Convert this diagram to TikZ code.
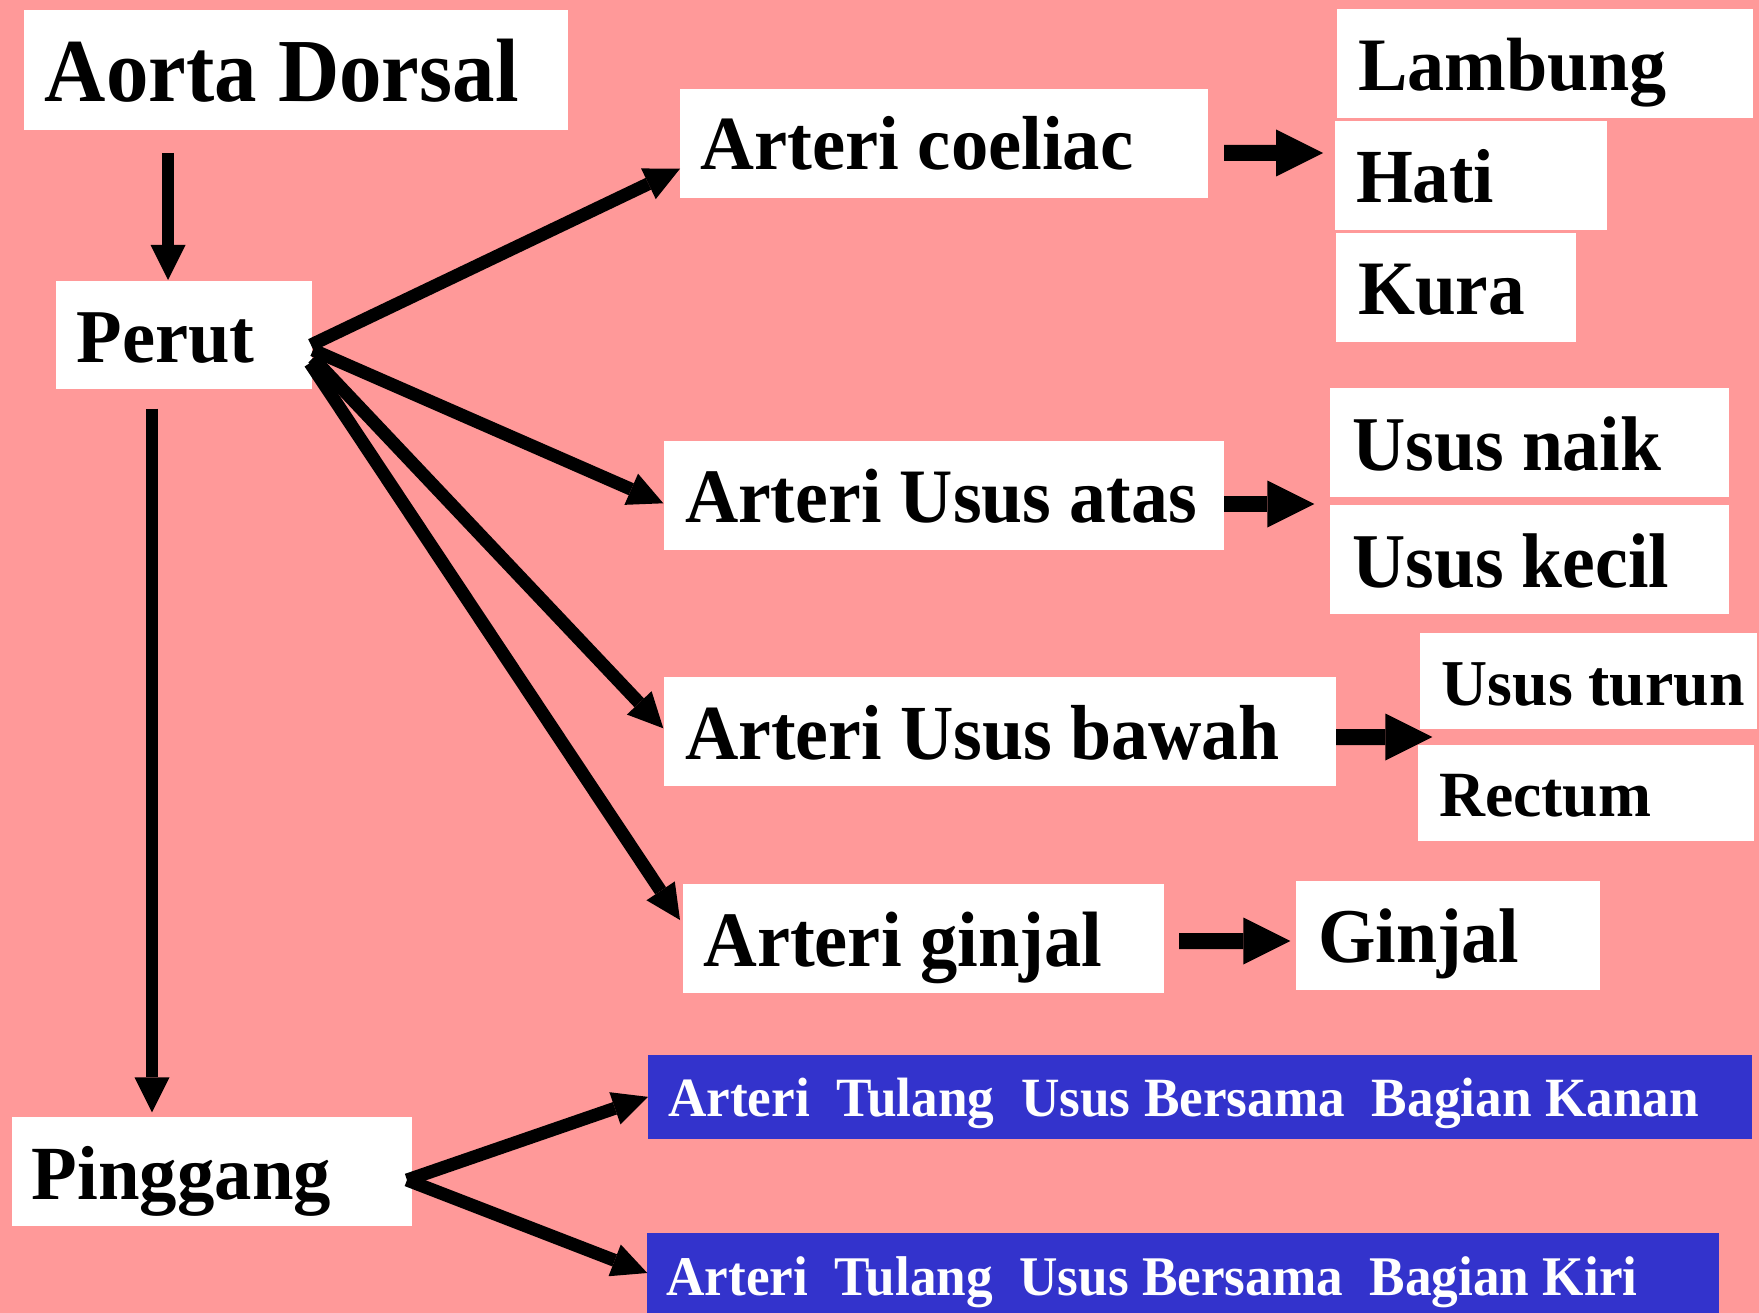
\documentclass[tikz,border=0pt]{standalone}
\usepackage{fontspec}
\setmainfont{Liberation Serif}
\usepackage{graphicx}
\usetikzlibrary{arrows.meta}
\definecolor{bgpink}{RGB}{255,153,153}
\definecolor{boxblue}{RGB}{51,51,204}
\newcommand\fs[1]{\fontsize{#1pt}{#1pt}\selectfont\bfseries}
\newcommand\fitw[2]{\setbox0=\hbox{#2}\pgfmathsetmacro\fitsx{#1/\the\wd0}\scalebox{\fitsx}[1]{\box0}}
\begin{document}
\begin{tikzpicture}[x=1pt,y=-1pt,
  wbox/.style={fill=white, anchor=north west, inner sep=0pt, outer sep=0pt},
  bbox/.style={wbox, fill=boxblue, text=white},
  vArr/.style={line width=12pt, -{Triangle[length=35pt,width=35pt,line width=0pt]}},
  dArr/.style={line width=13pt, -{Triangle[length=35pt,width=34pt,line width=0pt]}},
  hArr/.style={line width=16pt, -{Triangle[length=47pt,width=47pt,line width=0pt]}}]
\useasboundingbox (0,0) rectangle (1759,1313);
\fill[bgpink] (0,0) rectangle (1759,1313);

\node[wbox, text height=91.7pt, text depth=28.8pt] (aorta) at (24,10) {\makebox[544pt][l]{\hspace*{20.8pt}\fs{90}\fitw{474}{Aorta Dorsal}}};
\node[wbox, text height=81.7pt, text depth=26.6pt] (perut) at (56,281) {\makebox[256pt][l]{\hspace*{20.5pt}\fs{76}\fitw{178}{Perut}}};
\node[wbox, text height=82pt, text depth=26.7pt] (pinggang) at (12,1117) {\makebox[399.6pt][l]{\hspace*{20pt}\fs{76.6}\fitw{299}{Pinggang}}};

\node[wbox, text height=81pt, text depth=27.7pt] (coeliac) at (680,89) {\makebox[528pt][l]{\hspace*{20.4pt}\fs{76.6}\fitw{433}{Arteri coeliac}}};
\node[wbox, text height=81.7pt, text depth=27pt] (atas) at (664,441) {\makebox[560pt][l]{\hspace*{21pt}\fs{77}\fitw{512}{Arteri Usus atas}}};
\node[wbox, text height=82.3pt, text depth=26.4pt] (bawah) at (664,677) {\makebox[672pt][l]{\hspace*{21pt}\fs{78}\fitw{595}{Arteri Usus bawah}}};
\node[wbox, text height=82pt, text depth=26.7pt] (aginjal) at (683,884) {\makebox[480.7pt][l]{\hspace*{20.3pt}\fs{78.5}\fitw{399}{Arteri ginjal}}};

\node[wbox, text height=81.7pt, text depth=27pt] (lambung) at (1336.7,9) {\makebox[416pt][l]{\hspace*{21.3pt}\fs{75.5}\fitw{309}{Lambung}}};
\node[wbox, text height=81pt, text depth=27.4pt] (hati) at (1335,121.3) {\makebox[272pt][l]{\hspace*{21pt}\fs{76.5}\fitw{138}{Hati}}};
\node[wbox, text height=81.4pt, text depth=27pt] (kura) at (1336,233.3) {\makebox[240pt][l]{\hspace*{22pt}\fs{77}\fitw{167}{Kura}}};
\node[wbox, text height=82.7pt, text depth=26pt] (naik) at (1330,388) {\makebox[399pt][l]{\hspace*{22.3pt}\fs{77.5}\fitw{309}{Usus naik}}};
\node[wbox, text height=82pt, text depth=26.4pt] (kecil) at (1330,505.3) {\makebox[399pt][l]{\hspace*{22.3pt}\fs{77.5}\fitw{317}{Usus kecil}}};
\node[wbox, text height=71.7pt, text depth=23.7pt] (turun) at (1420,633.3) {\makebox[337pt][l]{\hspace*{21.7pt}\fs{65.4}\fitw{303}{Usus turun}}};
\node[wbox, text height=71.7pt, text depth=24pt] (rectum) at (1418,745) {\makebox[336pt][l]{\hspace*{21.3pt}\fs{64.5}\fitw{212}{Rectum}}};
\node[wbox, text height=81pt, text depth=27.4pt] (ginjal) at (1296,881.3) {\makebox[304pt][l]{\hspace*{22.3pt}\fs{77.5}\fitw{201}{Ginjal}}};

\node[bbox, text height=61.7pt, text depth=22pt] (kanan) at (648,1055) {\makebox[1104pt][l]{\hspace*{20pt}\fs{55.4}\fitw{1031}{Arteri~ Tulang~ Usus Bersama~ Bagian Kanan}}};
\node[bbox, text height=62.3pt, text depth=17.7pt] (kiri) at (647.3,1233) {\makebox[1071.7pt][l]{\hspace*{19.2pt}\fs{56}\fitw{971}{Arteri~ Tulang~ Usus Bersama~ Bagian Kiri}}};

% vertical arrows
\draw[vArr] ([xshift=-128pt, yshift=-22.5pt]aorta.south) -- ([xshift=-16pt, yshift=1pt]perut.north);
\draw[vArr] ([xshift=-32pt, yshift=-19.4pt]perut.south) -- ([xshift=-59.8pt, yshift=4.7pt]pinggang.north);

% fan from Perut
\draw[dArr] ([xshift=-1pt, yshift=-9.85pt]perut.east) -- ([yshift=-25.35pt]coeliac.west);
\draw[dArr] ([xshift=1pt, yshift=-14.85pt]perut.east) -- ([xshift=-0.7pt, yshift=-7.95pt]atas.west);
\draw[dArr] ([xshift=1pt, yshift=-22.85pt]perut.east) -- ([xshift=-0.7pt, yshift=3.05pt]bawah.west);
\draw[dArr] ([xshift=-2pt, yshift=-27.85pt]perut.east) -- ([xshift=-3pt, yshift=18.35pt]aginjal.west);

% right arrows
\draw[hArr] ([xshift=16pt, yshift=-9.65pt]coeliac.east) -- ([xshift=-12pt, yshift=22.5pt]hati.west);
\draw[hArr] ([yshift=-8.65pt]atas.east) -- ([xshift=-15.7pt, yshift=-7.3pt]naik.south west);
\draw[hArr] ([yshift=-5.65pt]bawah.east) -- ([xshift=12.3pt, yshift=-8.3pt]turun.south west);
\draw[hArr] ([xshift=15.3pt, yshift=-2.65pt]aginjal.east) -- ([xshift=-5.7pt, yshift=-5.5pt]ginjal.west);

% from Pinggang
\draw[dArr] ([xshift=-4.6pt, yshift=-8.65pt]pinggang.east) -- (kanan.west);
\draw[dArr] ([xshift=-4.6pt, yshift=-8.65pt]pinggang.east) -- (kiri.west);
\end{tikzpicture}
\end{document}
